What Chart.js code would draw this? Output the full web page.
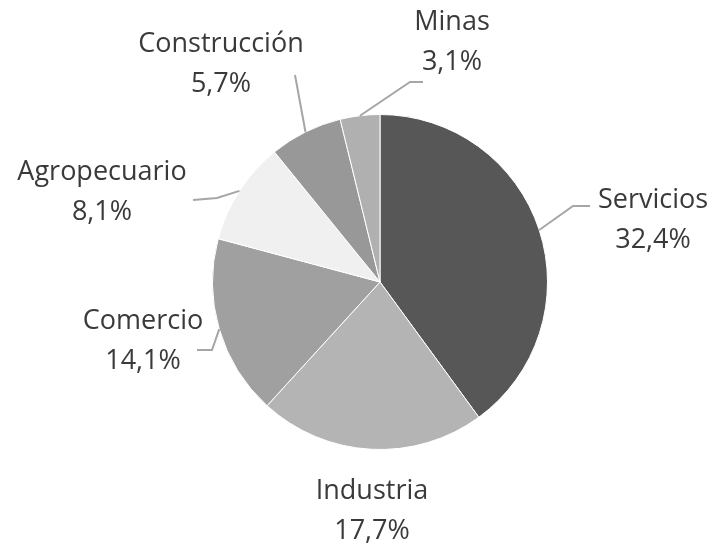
<!DOCTYPE html>
<html>
<head>
<meta charset="utf-8">
<script src="https://cdn.jsdelivr.net/npm/chart.js@4"></script>
<style>
  html, body { margin: 0; padding: 0; background: #fff; }
  #wrap { width: 713px; height: 546px; }
</style>
</head>
<body>
<div id="wrap"><canvas id="pieChart" width="713" height="546"></canvas></div>
<script>
// datos
const sectores = ['Servicios', 'Industria', 'Comercio', 'Agropecuario', 'Construcción', 'Minas'];
const porcentajes = [32.4, 17.7, 14.1, 8.1, 5.7, 3.1];
const etiquetasPct = ['32,4%', '17,7%', '14,1%', '8,1%', '5,7%', '3,1%'];
const colores = ['#575757', '#b4b4b4', '#a0a0a0', '#f0f0f0', '#989898', '#b0b0b0'];

// posicion de etiquetas y guias, relativo al centro del pastel
const etiquetaLayout = [
    { tx: 273, ty: -62, elbow: [193, -76], end: [210, -76] },
    { tx: -8, ty: 229, elbow: null, end: null },
    { tx: -237, ty: 59, elbow: [-168, 68], end: [-183, 68] },
    { tx: -278, ty: -90, elbow: [-163, -84], end: [-187, -82] },
    { tx: -159, ty: -218, elbow: [-85, -207], end: [-85, -207] },
    { tx: 72, ty: -240, elbow: [30, -200], end: [43, -200] }
];

const labelPlugin = {
    id: 'etiquetas',
    afterDraw(chart) {
        const ctx = chart.ctx;
        const arcs = chart.getDatasetMeta(0).data;
        ctx.save();
        arcs.forEach((arc, i) => {
            const p = arc.getProps(['x', 'y', 'startAngle', 'endAngle', 'outerRadius'], true);
            const lay = etiquetaLayout[i];
            const mid = (p.startAngle + p.endAngle) / 2;
            const ax = p.x + Math.cos(mid) * p.outerRadius;
            const ay = p.y + Math.sin(mid) * p.outerRadius;

            if (lay.elbow) {
                ctx.beginPath();
                ctx.strokeStyle = '#a6a6a6';
                ctx.lineWidth = 2;
                ctx.moveTo(ax, ay);
                ctx.lineTo(p.x + lay.elbow[0], p.y + lay.elbow[1]);
                ctx.lineTo(p.x + lay.end[0], p.y + lay.end[1]);
                ctx.stroke();
            }

            ctx.fillStyle = '#3a3a3a';
            ctx.font = '27px "Open Sans", sans-serif';
            ctx.textAlign = 'center';
            ctx.textBaseline = 'middle';
            ctx.fillText(sectores[i], p.x + lay.tx, p.y + lay.ty - 20);
            ctx.fillText(etiquetasPct[i], p.x + lay.tx, p.y + lay.ty + 20);
        });
        ctx.restore();
    }
};

new Chart(document.getElementById('pieChart'), {
    type: 'pie',
    data: {
        labels: sectores,
        datasets: [{
            data: porcentajes,
            backgroundColor: colores,
            borderColor: '#ffffff',
            borderWidth: 1
        }]
    },
    options: {
        responsive: false,
        animation: false,
        layout: {
            padding: { top: 114, bottom: 96, left: 212, right: 165 }
        },
        plugins: {
            legend: { display: false },
            tooltip: { enabled: false }
        }
    },
    plugins: [labelPlugin]
});
</script>
</body>
</html>
